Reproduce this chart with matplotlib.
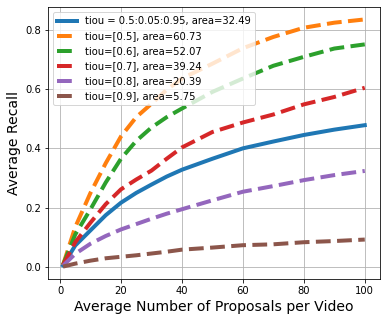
import matplotlib
matplotlib.use("Agg")
import matplotlib.pyplot as plt

# average number of proposals per video
proposals = [1, 5, 10, 15, 20, 25, 30, 35, 40, 50, 60, 70, 80, 90, 100]

recall_avg = [0.006, 0.073, 0.124, 0.175, 0.217, 0.25, 0.278, 0.305, 0.328, 0.365, 0.4, 0.423, 0.445, 0.463, 0.478]
recall_05 = [0.008, 0.135, 0.25, 0.35, 0.44, 0.505, 0.55, 0.597, 0.635, 0.685, 0.737, 0.775, 0.806, 0.823, 0.834]
recall_06 = [0.008, 0.11, 0.195, 0.285, 0.365, 0.425, 0.47, 0.505, 0.534, 0.59, 0.635, 0.678, 0.708, 0.736, 0.75]
recall_07 = [0.007, 0.084, 0.15, 0.212, 0.262, 0.295, 0.325, 0.365, 0.403, 0.455, 0.487, 0.514, 0.548, 0.573, 0.604]
recall_08 = [0.005, 0.045, 0.079, 0.105, 0.127, 0.145, 0.163, 0.18, 0.195, 0.225, 0.254, 0.273, 0.293, 0.31, 0.324]
recall_09 = [0.002, 0.012, 0.022, 0.03, 0.035, 0.04, 0.046, 0.052, 0.059, 0.066, 0.074, 0.077, 0.084, 0.088, 0.093]

tiou_labels = ["tiou=[0.5]", "tiou=[0.6]", "tiou=[0.7]", "tiou=[0.8]", "tiou=[0.9]"]
tiou_areas = [60.73, 52.07, 39.24, 20.39, 5.75]
avg_area = 32.49

fig = plt.figure(figsize=(390 / 72, 321 / 72), dpi=72)
ax = fig.add_axes([0.123, 0.131, 0.851, 0.847])

ax.plot(proposals, recall_avg, linewidth=4,
        label="tiou = 0.5:0.05:0.95, area=%.2f" % avg_area)
for rec, lab, area in zip([recall_05, recall_06, recall_07, recall_08, recall_09],
                          tiou_labels, tiou_areas):
    ax.plot(proposals, rec, linewidth=4, linestyle="--",
            label="%s, area=%.2f" % (lab, area))

ax.set_xlabel("Average Number of Proposals per Video", fontsize=14)
ax.set_ylabel("Average Recall", fontsize=14)
ax.set_xticks([0, 20, 40, 60, 80, 100])
ax.set_yticks([0.0, 0.2, 0.4, 0.6, 0.8])
ax.grid(True)
ax.legend(loc="upper left")

fig.savefig("out.png", dpi=72)
